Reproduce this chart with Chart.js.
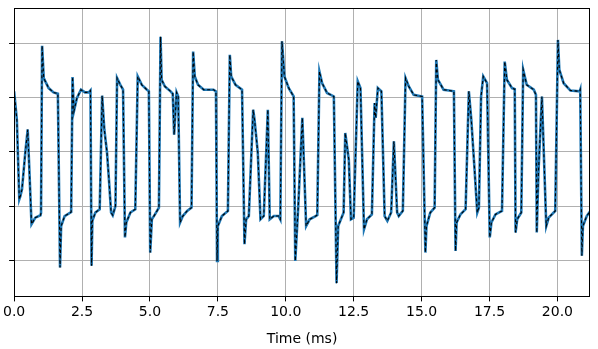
<!DOCTYPE html>
<html>
<head>
<meta charset="utf-8">
<script src="https://cdn.jsdelivr.net/npm/chart.js@4"></script>
<style>
  html, body { margin: 0; padding: 0; background: #fff; }
  #wrap { width: 598px; height: 349px; }
</style>
</head>
<body>
<div id="wrap"><canvas id="trace"></canvas></div>
<script>
// time axis (ms) and membrane trace
const times = [
  0.00, 0.10, 0.19, 0.23, 0.29, 0.41, 0.50, 0.56, 0.64, 0.78, 0.97, 0.99, 1.03, 1.09, 1.27, 1.45, 1.61,
  1.69, 1.73, 1.86, 2.10, 2.15, 2.20, 2.31, 2.46, 2.61, 2.75, 2.81, 2.85, 2.88, 2.99, 3.15,
  3.24, 3.32, 3.42, 3.49, 3.57, 3.63, 3.73, 3.79, 3.91, 4.01, 4.08, 4.13, 4.28, 4.46,
  4.55, 4.70, 4.89, 4.96, 5.01, 5.07, 5.19, 5.33, 5.39, 5.43, 5.55, 5.76, 5.84, 5.89,
  5.98, 6.04, 6.11, 6.21, 6.37, 6.53, 6.59, 6.65, 6.77, 6.98, 7.34, 7.43, 7.47, 7.50,
  7.65, 7.87, 7.94, 7.99, 8.15, 8.39, 8.48, 8.54, 8.64, 8.80, 8.85, 8.97, 9.07, 9.19,
  9.34, 9.41, 9.56, 9.74, 9.80, 9.86, 9.95, 10.11, 10.29, 10.35, 10.46, 10.61, 10.75,
  10.88, 11.10, 11.16, 11.24, 11.34, 11.52, 11.77, 11.87, 11.93, 12.13, 12.19, 12.32,
  12.40, 12.50, 12.65, 12.75, 12.88, 12.99, 13.17, 13.27, 13.31, 13.39, 13.52, 13.64,
  13.74, 13.88, 13.98, 14.10, 14.16, 14.31, 14.41, 14.53, 14.71, 15.02, 15.14, 15.18,
  15.32, 15.48, 15.54, 15.60, 15.81, 16.01, 16.19, 16.25, 16.29, 16.43, 16.62, 16.74,
  16.83, 16.95, 17.05, 17.11, 17.19, 17.27, 17.41, 17.51, 17.57, 17.72, 17.96, 18.06,
  18.14, 18.33, 18.43, 18.46, 18.52, 18.67, 18.74, 18.87, 19.13, 19.21, 19.24, 19.30,
  19.43, 19.59, 19.68, 19.92, 20.02, 20.07, 20.23, 20.48, 20.82, 20.84, 20.90, 20.94,
  21.08, 21.20
];
const volts = [
  -17.6, -28.1, -57.5, -56.3, -53.8, -40.3, -31.7, -46.5, -66.7, -64.3, -63.4, -62.5, -0.8, -12.7, -16.4, -18.0, -18.5,
  -82.7, -67.4, -63.7, -62.2, -12.3, -25.0, -20.1, -17.0, -18.0, -18.0, -17.3, -82.1, -65.5, -62.4, -61.2,
  -19.2, -31.7, -40.3, -50.2, -62.4, -63.4, -60.0, -12.7, -15.2, -17.0, -71.6, -66.1, -62.4, -61.2,
  -12.1, -15.2, -17.0, -17.6, -77.2, -64.9, -63.0, -60.6, 2.6, -13.3, -15.8, -17.6, -18.5, -33.6,
  -18.0, -19.5, -66.1, -63.7, -61.8, -60.6, -2.9, -12.1, -15.2, -17.0, -17.0, -17.6, -80.3, -67.4,
  -63.7, -61.8, -4.1, -12.1, -15.2, -17.0, -74.1, -64.9, -63.7, -24.4, -28.1, -40.3, -64.9, -63.7,
  -24.4, -64.9, -63.7, -63.7, -64.9, 0.9, -12.1, -16.4, -19.5, -80.3, -60.0, -27.4, -67.4,
  -64.9, -63.7, -63.3, -10.3, -14.6, -18.2, -19.5, -88.5, -67.4, -62.4, -33.0, -42.8,
  -64.9, -64.3, -13.9, -16.4, -68.6, -64.9, -63.1, -21.9, -27.4, -16.4, -17.6, -63.7,
  -65.5, -62.4, -36.1, -62.4, -63.7, -61.8, -12.7, -15.8, -18.9, -19.5, -77.2, -67.4,
  -62.4, -60.6, -6.0, -13.3, -17.0, -17.3, -17.6, -76.6, -66.1, -63.1, -61.2, -17.6,
  -28.1, -46.5, -62.4, -60.6, -19.5, -12.1, -14.6, -71.6, -66.1, -63.1, -61.8, -6.6,
  -13.3, -16.4, -16.8, -69.8, -64.9, -62.4, -9.6, -15.2, -17.0, -18.9, -69.8, -48.0,
  -19.5, -67.4, -64.3, -61.8, 1.4, -9.6, -14.6, -17.3, -17.6, -17.0, -78.4, -67.4,
  -63.7, -62.0
];
const xTicks = [0, 2.5, 5, 7.5, 10, 12.5, 15, 17.5, 20];
const yTicks = [-80, -60, -40, -20, 0];

const points = times.map((t, i) => ({ x: t, y: volts[i] }));
const font = { family: 'DejaVu Sans', size: 14 };

// matplotlib-style full box round the axes
const frame = {
  id: 'frame',
  afterDraw(chart) {
    const { ctx, chartArea: a } = chart;
    ctx.save();
    ctx.strokeStyle = '#000';
    ctx.lineWidth = 1;
    ctx.strokeRect(Math.round(a.left) + 0.5, Math.round(a.top) + 0.5,
      Math.round(a.right - a.left) - 1, Math.round(a.bottom - a.top));
    ctx.restore();
  }
};

new Chart(document.getElementById('trace'), {
  type: 'line',
  data: {
    datasets: [
      {
        label: 'model',
        data: points,
        borderColor: '#000',
        borderWidth: 1.1,
        borderDash: [3, 2.5],
        pointRadius: 0,
        tension: 0
      },
      {
        label: 'recording',
        data: points,
        borderColor: '#1f77b4',
        borderWidth: 2.6,
        pointRadius: 0,
        tension: 0
      }
    ]
  },
  options: {
    responsive: true,
    maintainAspectRatio: false,
    animation: false,
    layout: { padding: { left: 7, right: 8, top: 8, bottom: 1 } },
    plugins: { legend: { display: false }, tooltip: { enabled: false } },
    scales: {
      x: {
        type: 'linear',
        min: 0,
        max: 21.2,
        border: { display: false },
        grid: { color: '#b0b0b0', lineWidth: 1, tickColor: '#000', tickLength: 5 },
        afterBuildTicks: (axis) => { axis.ticks = xTicks.map(v => ({ value: v })); },
        ticks: {
          color: '#000',
          font: font,
          padding: 3,
          maxRotation: 0,
          includeBounds: false,
          callback: (v) => Number(v).toFixed(1)
        },
        title: { display: true, text: 'Time (ms)', color: '#000', font: font, padding: { top: 7, bottom: 0 } }
      },
      y: {
        type: 'linear',
        min: -93.4,
        max: 13.2,
        border: { display: false },
        grid: { color: '#b0b0b0', lineWidth: 1, tickColor: '#000', tickLength: 5 },
        afterBuildTicks: (axis) => { axis.ticks = yTicks.map(v => ({ value: v })); },
        ticks: { display: false }
      }
    }
  },
  plugins: [frame]
});
</script>
</body>
</html>
